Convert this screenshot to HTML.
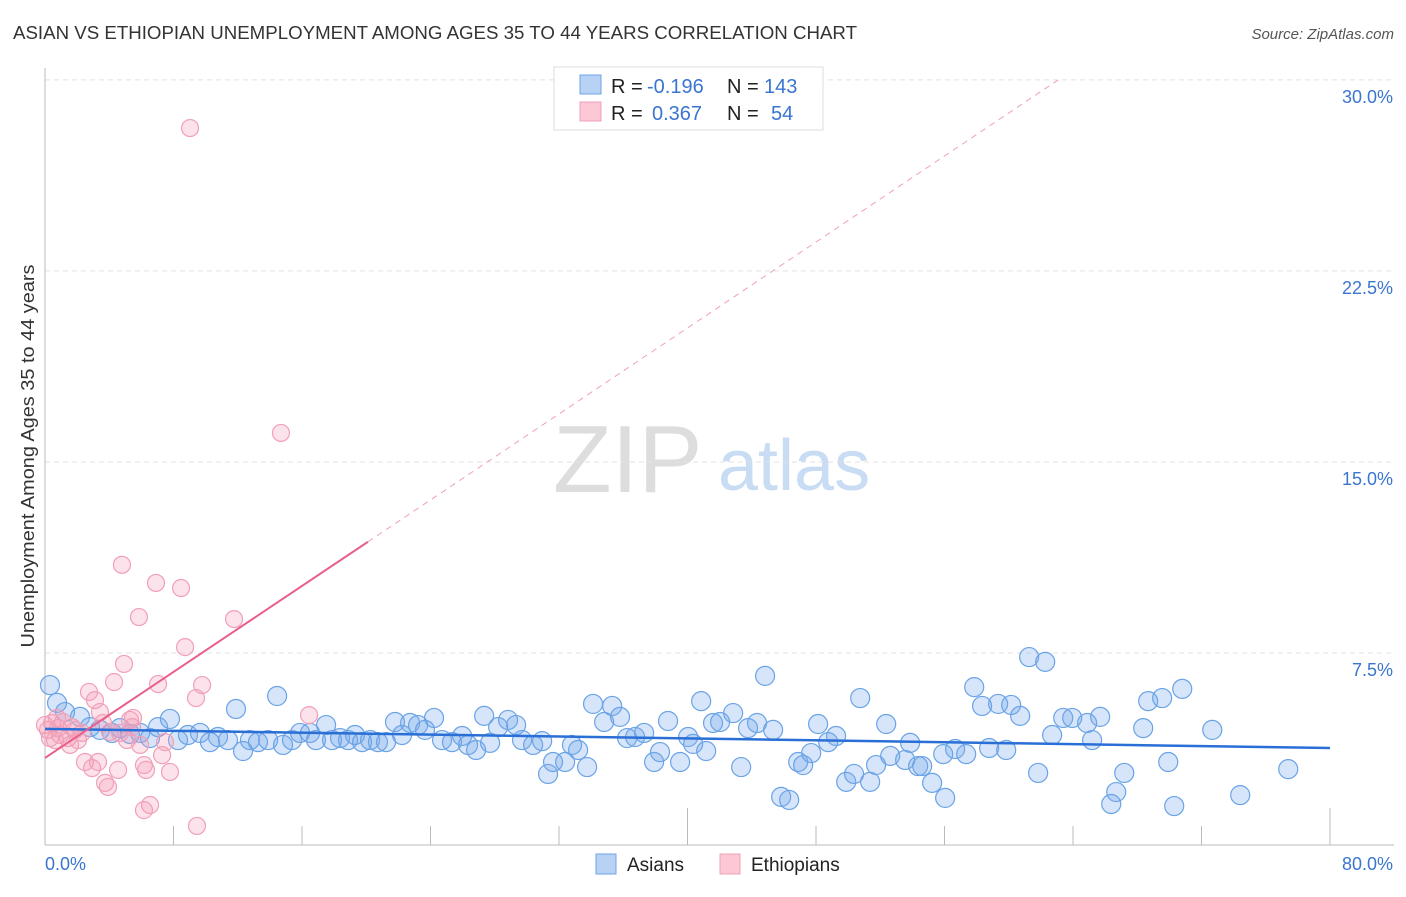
<!DOCTYPE html>
<html><head><meta charset="utf-8">
<style>
body{margin:0;background:#fff;font-family:"Liberation Sans",sans-serif;}
svg text{font-family:"Liberation Sans",sans-serif;}
</style></head>
<body>
<svg id="chart" width="1406" height="892" viewBox="0 0 1406 892" xmlns="http://www.w3.org/2000/svg">
<text x="13" y="39" font-size="18" fill="#333" textLength="844" lengthAdjust="spacingAndGlyphs">ASIAN VS ETHIOPIAN UNEMPLOYMENT AMONG AGES 35 TO 44 YEARS CORRELATION CHART</text>
<text x="1394" y="39" font-size="15" fill="#555" text-anchor="end" font-style="italic">Source: ZipAtlas.com</text>
<g>
<text x="553" y="492" font-size="96" fill="#ddd" font-family="Liberation Serif, serif">ZIP</text>
<text x="718" y="490" font-size="72" fill="#c8dcf4">atlas</text>
</g>
<g id="grid"></g>
<g id="axes"></g>
<g id="marks"></g>
<text transform="translate(34,456) rotate(-90)" font-size="18" fill="#333" text-anchor="middle" textLength="383" lengthAdjust="spacingAndGlyphs">Unemployment Among Ages 35 to 44 years</text>
<g>
<rect x="554" y="67" width="269" height="63" fill="#fff" stroke="#ddd"/>
<rect x="580" y="75" width="21" height="19" fill="#b7d2f4" stroke="#6fa3e6"/>
<rect x="580" y="102" width="21" height="19" fill="#fcc8d6" stroke="#f0a0b8"/>
<text x="611" y="93" font-size="20" fill="#222">R =</text>
<text x="647" y="93" font-size="20" fill="#3a75d0">-0.196</text>
<text x="727" y="93" font-size="20" fill="#222">N =</text>
<text x="764" y="93" font-size="20" fill="#3a75d0">143</text>
<text x="611" y="120" font-size="20" fill="#222">R =</text>
<text x="652" y="120" font-size="20" fill="#3a75d0">0.367</text>
<text x="727" y="120" font-size="20" fill="#222">N =</text>
<text x="771" y="120" font-size="20" fill="#3a75d0">54</text>
</g>
<g>
<rect x="596" y="854" width="20" height="20" fill="#b7d2f4" stroke="#6fa3e6"/>
<text x="627" y="871" font-size="19" fill="#222">Asians</text>
<rect x="720" y="854" width="20" height="20" fill="#fcc8d6" stroke="#f0a0b8"/>
<text x="751" y="871" font-size="19" fill="#222">Ethiopians</text>
</g>
</svg>
<script>
const yTicks=[7.5,15,22.5,30];
const yTickLabels=["7.5%","15.0%","22.5%","30.0%"];
const xTicks=[0,8,16,24,32,40,48,56,64,72,80];
const asianX=[0.31,0.75,1.25,2.18,2.80,3.42,4.17,4.67,5.29,5.92,6.54,7.04,7.78,8.28,8.90,9.65,10.27,10.77,11.39,11.89,12.33,12.76,13.26,13.89,14.45,14.82,15.38,15.88,16.50,16.87,17.50,17.87,18.37,18.87,19.30,19.74,20.24,20.73,21.23,21.79,22.23,22.73,23.23,23.66,24.22,24.72,25.34,25.97,26.34,26.84,27.34,27.71,28.21,28.83,29.33,29.70,30.39,30.95,31.32,31.63,32.38,32.81,33.19,33.75,34.12,34.81,35.31,35.80,36.24,36.74,37.30,37.92,38.29,38.79,39.54,40.04,40.35,41.16,40.85,41.59,42.03,42.84,43.34,43.77,44.33,44.83,45.33,45.83,46.33,46.89,47.20,47.70,48.13,48.76,49.25,49.88,50.37,50.75,51.37,51.74,52.37,52.62,53.55,53.86,54.36,54.61,55.23,56.04,55.92,56.66,57.35,57.85,58.34,58.78,59.34,59.84,60.15,60.71,61.83,62.70,61.27,62.27,63.39,63.95,64.88,65.19,65.69,67.19,66.38,66.69,68.37,68.68,69.55,69.93,70.30,70.80,72.67,74.41,77.40];
const asianY=[6.24,5.54,5.18,4.99,4.59,4.48,4.36,4.55,4.32,4.36,4.16,4.59,4.91,4.08,4.28,4.36,4.00,4.20,4.08,5.30,3.65,4.08,4.00,4.08,5.81,3.89,4.08,4.36,4.36,4.08,4.67,4.08,4.16,4.08,4.28,4.00,4.08,4.00,4.00,4.79,4.28,4.75,4.67,4.48,4.95,4.08,4.00,4.24,3.89,3.69,5.03,3.97,4.59,4.87,4.67,4.08,3.89,4.04,2.75,3.22,3.22,3.89,3.69,3.02,5.50,4.79,5.42,4.99,4.16,4.20,4.36,3.22,3.61,4.83,3.22,4.20,3.93,3.65,5.61,4.75,4.79,5.14,3.02,4.55,4.75,6.60,4.48,1.85,1.73,3.22,3.10,3.57,4.71,4.00,4.24,2.44,2.75,5.73,2.44,3.10,4.71,3.46,3.30,3.97,3.06,3.06,2.40,1.81,3.53,3.73,3.53,6.16,5.42,3.77,5.50,3.69,5.46,5.03,2.79,4.28,7.34,7.15,4.95,4.95,4.75,4.08,4.99,2.79,1.57,2.04,4.55,5.61,5.73,3.22,1.49,6.09,4.48,1.92,2.94];
const ethX=[9.03,14.69,4.79,6.91,8.47,5.85,11.77,8.72,4.92,7.04,9.78,4.30,9.40,2.74,3.11,16.44,0.75,0.44,0.19,0.93,1.43,1.87,2.30,3.42,3.61,5.29,5.48,5.92,5.11,7.47,1.56,2.05,2.49,2.93,3.30,3.74,3.92,4.55,6.16,6.29,7.29,7.78,6.54,6.16,9.46,0.62,1.12,1.68,4.05,4.67,5.42,0.00,0.31,0.81];
const ethY=[28.11,16.14,10.96,10.25,10.05,8.91,8.83,7.73,7.07,6.28,6.24,6.36,5.73,5.97,5.65,5.06,4.95,4.75,4.48,4.28,4.16,4.48,4.36,5.18,4.75,4.87,4.95,3.89,4.08,4.00,3.89,4.08,3.22,2.98,3.22,2.40,2.24,2.91,3.10,2.91,3.49,2.83,1.53,1.33,0.71,4.08,4.79,4.59,4.40,4.36,4.59,4.67,4.16,4.55];
const asianTrend=[4.52,3.77];
const ethTrend=[3.38,0.422];

const NS="http://www.w3.org/2000/svg";
const X0=45,X1=1330,Y0=844,PXY=25.47;
function sx(v){return X0+(X1-X0)*v/80;}
function sy(v){return Y0-v*PXY;}
function mk(tag,attrs,parent){const e=document.createElementNS(NS,tag);for(const k in attrs)e.setAttribute(k,attrs[k]);parent.appendChild(e);return e;}
const grid=document.getElementById('grid'),axes=document.getElementById('axes'),marks=document.getElementById('marks');
yTicks.forEach((t,i)=>{
  const l=mk('line',{x1:X0,x2:1394,y1:sy(t),y2:sy(t),stroke:'#e2e2e2','stroke-dasharray':'5,4'},grid);
  
  
  const tx=mk('text',{x:1393,y:sy(t)+23,'font-size':18,fill:'#3a75d0','text-anchor':'end'},grid);
  tx.textContent=yTickLabels[i];
  
  
});
const ya=mk('line',{x1:X0,x2:X0,y1:68,y2:Y0+1,stroke:'#bbb'},axes);


const xa=mk('line',{x1:X0,x2:1394,y1:Y0+1,y2:Y0+1,stroke:'#bbb'},axes);


xTicks.forEach((t,i)=>{
  const big=(t===40||t===80);
  const tk=mk('line',{x1:sx(t),x2:sx(t),y1:big?808:826,y2:Y0+1,stroke:'#bbb'},axes);
  
  
});
const xl0=mk('text',{x:X0,y:870,'font-size':18,fill:'#3a75d0'},axes);xl0.textContent='0.0%';


const xl1=mk('text',{x:1393,y:870,'font-size':18,fill:'#3a75d0','text-anchor':'end'},axes);xl1.textContent='80.0%';



asianX.forEach((x,i)=>{
  const c=mk('circle',{cx:sx(x),cy:sy(asianY[i]),r:9.5,fill:'rgba(120,170,235,0.3)',stroke:'#6aa3e6','stroke-width':1.2},marks);
  
  
});
ethX.forEach((x,i)=>{
  const c=mk('circle',{cx:sx(x),cy:sy(ethY[i]),r:8.5,fill:'rgba(245,160,185,0.3)',stroke:'#f0a0b8','stroke-width':1.2},marks);
  
  
});
const at=mk('line',{x1:sx(0),y1:sy(asianTrend[0]),x2:sx(80),y2:sy(asianTrend[1]),stroke:'#2a6fd6','stroke-width':2.5},marks);


const ex=20.1, exEnd=(30-ethTrend[0])/ethTrend[1];
const et=mk('line',{x1:sx(0),y1:sy(ethTrend[0]),x2:sx(ex),y2:sy(ethTrend[0]+ethTrend[1]*ex),stroke:'#e8608a','stroke-width':2},marks);


const ed=mk('line',{x1:sx(ex),y1:sy(ethTrend[0]+ethTrend[1]*ex),x2:sx(exEnd),y2:sy(30),stroke:'#f0a0b8','stroke-width':1,'stroke-dasharray':'6,5'},marks);


</script>
</body></html>
